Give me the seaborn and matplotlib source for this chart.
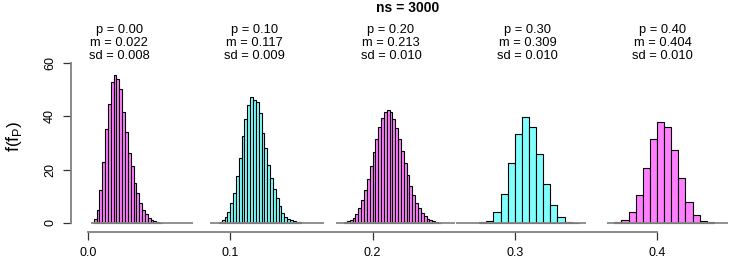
import numpy as np
import pandas as pd
import matplotlib
matplotlib.use("Agg")
import matplotlib.pyplot as plt
import seaborn as sns

# simulated sampling distributions of f_P, ns = 3000
p_vals = [0.00, 0.10, 0.20, 0.30, 0.40]
m_vals = [0.022, 0.117, 0.213, 0.309, 0.404]
sd_vals = [0.008, 0.009, 0.010, 0.010, 0.010]

bin_start = [0.004, 0.092, 0.180, 0.275, 0.370]
bin_width = [0.002, 0.002, 0.002, 0.005, 0.005]

dens_p00 = [1.4, 4.9, 12.3, 23.0, 35.1, 44.7, 52.9, 55.4, 53.9, 50.4, 41.6, 34.1,
            26.1, 21.4, 14.9, 11.1, 7.4, 4.9, 3.3, 2.0, 1.1, 0.75, 0.4, 0.15]
dens_p10 = [0.4, 1.1, 2.1, 4.0, 7.4, 11.4, 17.6, 24.3, 32.6, 38.9, 44.2, 47.1,
            46.1, 45.5, 41.1, 33.6, 28.0, 21.7, 16.8, 12.6, 9.3, 6.4, 3.9, 2.4,
            1.5, 1.0, 0.6, 0.4, 0.2]
dens_p20 = [0.3, 0.6, 1.1, 2.0, 3.5, 5.5, 8.5, 12.5, 16.5, 21.5, 26.5, 31.5,
            36.0, 39.5, 41.5, 42.3, 41.5, 39.0, 35.5, 31.5, 27.0, 22.5, 18.0, 14.0,
            10.5, 7.5, 5.5, 3.8, 2.6, 1.6, 1.0, 0.6, 0.3, 0.15]
dens_p30 = [0.3, 0.9, 4.0, 10.7, 22.5, 33.5, 39.7, 35.9, 26.0, 14.8, 6.6, 2.1, 0.5, 0.15]
dens_p40 = [0.2, 1.1, 4.2, 10.4, 20.8, 31.6, 37.9, 35.9, 27.2, 16.8, 7.7, 3.0, 0.75, 0.2]
densities = [dens_p00, dens_p10, dens_p20, dens_p30, dens_p40]

# range of each simulated sample (grey base line)
range_lo = [0.002, 0.086, 0.174, 0.259, 0.365]
range_hi = [0.074, 0.166, 0.258, 0.350, 0.450]

colors = ["#FF80FF", "#80FFFF", "#FF80FF", "#80FFFF", "#FF80FF"]
xticks = [0.0, 0.1, 0.2, 0.3, 0.4]
yticks = [0, 20, 40, 60]

sns.set_style("white")
plt.rcParams["font.family"] = ["Liberation Sans", "DejaVu Sans"]
plt.rcParams["mathtext.fontset"] = "custom"
plt.rcParams["mathtext.rm"] = "Liberation Sans"
plt.rcParams["mathtext.default"] = "regular"
plt.rcParams["text.color"] = "black"
plt.rcParams["xtick.color"] = "black"
plt.rcParams["ytick.color"] = "black"

W, H = 747, 262
fig = plt.figure(figsize=(W / 100, H / 100), dpi=100)
ax = fig.add_axes([75 / W, 1 - 226 / H, 665 / W, 206 / H])

for i in range(5):
    n = len(densities[i])
    edges = bin_start[i] + bin_width[i] * np.arange(n + 1)
    df = pd.DataFrame({"fp": edges[:-1] + bin_width[i] / 2, "dens": densities[i]})
    sns.histplot(data=df, x="fp", weights="dens", bins=edges.tolist(), stat="count",
                 color=colors[i], alpha=1, edgecolor="black", linewidth=0.8, ax=ax)
    ax.hlines(0, range_lo[i], range_hi[i], color="#888888", lw=1.3, zorder=3)
    ax.text(m_vals[i], 67.5,
            "p = %.2f\nm = %.3f\nsd = %.3f" % (p_vals[i], m_vals[i], sd_vals[i]),
            ha="center", va="center", fontsize=9.3, linespacing=1.1, color="black")

ax.set_xlim((75 - 88) / 1422.5, (740 - 88) / 1422.5)
ax.set_ylim(-1.125, 76.1)
ax.set_xlabel("")
ax.set_ylabel("")

for s in ["top", "right"]:
    ax.spines[s].set_visible(False)
ax.spines["left"].set_position(("outward", 3))
ax.spines["bottom"].set_position(("outward", 4.3))
ax.spines["left"].set_bounds(0, 60)
ax.spines["bottom"].set_bounds(0, 0.4)
for s in ["left", "bottom"]:
    ax.spines[s].set_color("#808080")
    ax.spines[s].set_linewidth(1.3)

ax.set_xticks(xticks)
ax.set_xticklabels(["0.0", "0.1", "0.2", "0.3", "0.4"])
ax.set_yticks(yticks)
ax.tick_params(axis="both", direction="out", length=5.6, width=0.9, color="#333333",
               labelcolor="black", labelsize=9, pad=5, bottom=True, left=True)
plt.setp(ax.get_yticklabels(), rotation=90, va="center")

fig.text(14 / W, 1 - 136 / H, r"$f\left(f_{P}\right)$", rotation=90,
         ha="center", va="center", fontsize=13, color="black")
fig.text(408 / W, 1 - 8 / H, "ns = 3000", ha="center", va="center",
         fontsize=10, fontweight="bold", color="black")

fig.savefig("out.png", dpi=100)
